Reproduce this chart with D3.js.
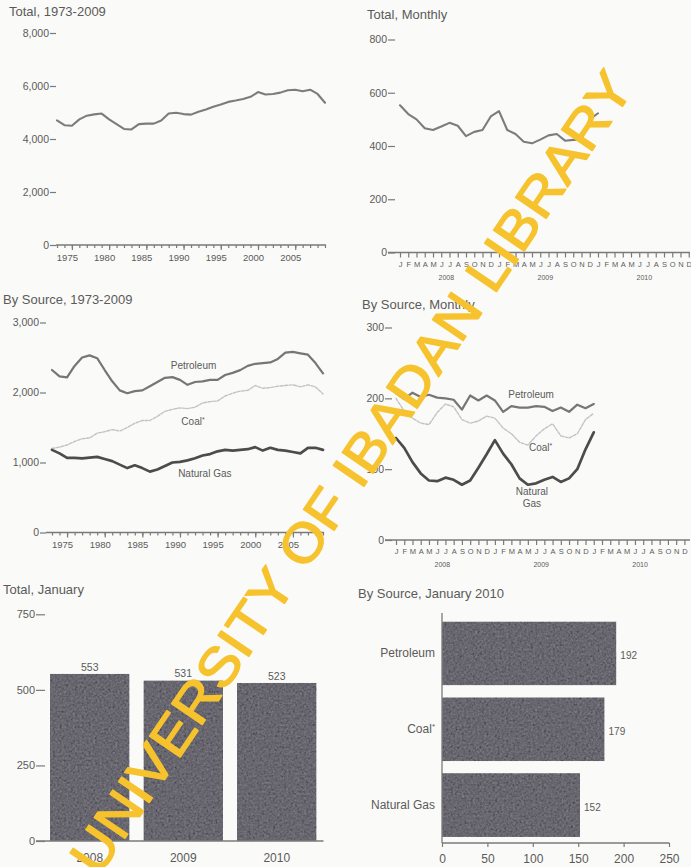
<!DOCTYPE html>
<html>
<head>
<meta charset="utf-8">
<script src="https://cdn.jsdelivr.net/npm/d3@7"></script>
<style>
  html, body { margin: 0; padding: 0; background: #fafaf8; }
  svg { display: block; }
</style>
</head>
<body>
<svg id="page" width="691" height="867"></svg>
<script>
// ---------- data ----------
const years = d3.range(1973, 2010);
const totalAnnual = [4700, 4520, 4500, 4740, 4880, 4930, 4960, 4740, 4560, 4380,
                     4360, 4560, 4580, 4580, 4700, 4960, 4990, 4940, 4920, 5030,
                     5110, 5220, 5300, 5400, 5450, 5510, 5590, 5770, 5680, 5700,
                     5750, 5840, 5860, 5800, 5860, 5700, 5370];
const petroleumAnnual = [2321, 2230, 2215, 2380, 2500, 2530, 2490, 2321, 2160, 2030,
                         1990, 2020, 2030, 2090, 2150, 2210, 2220, 2180, 2110, 2150,
                         2160, 2180, 2180, 2250, 2280, 2320, 2380, 2410, 2420, 2430,
                         2480, 2570, 2580, 2560, 2540, 2420, 2274];
const coalAnnual = [1200, 1220, 1250, 1300, 1340, 1350, 1420, 1440, 1470, 1450,
                    1500, 1560, 1600, 1600, 1660, 1730, 1760, 1780, 1770, 1790,
                    1850, 1870, 1880, 1950, 1990, 2020, 2030, 2100, 2060, 2070,
                    2090, 2100, 2110, 2080, 2110, 2080, 1980];
const gasAnnual = [1180, 1130, 1065, 1065, 1060, 1070, 1080, 1050, 1020, 970,
                   920, 960, 920, 870, 900, 950, 1000, 1010, 1030, 1060,
                   1100, 1120, 1160, 1180, 1170, 1180, 1190, 1220, 1170, 1210,
                   1180, 1170, 1150, 1130, 1210, 1210, 1180];
const majorYears = [1975, 1980, 1985, 1990, 1995, 2000, 2005];

const monthLetters = ["J","F","M","A","M","J","J","A","S","O","N","D"];
const monthYears = ["2008", "2009", "2010"];
// January 2008 through January 2010
const totalMonthly = [553, 520, 500, 467, 460, 473, 487, 476, 437, 453, 460, 511, 531,
                      460, 445, 416, 410, 424, 440, 445, 420, 423, 425, 500, 523];
const petroleumMonthly = [207, 199, 208, 202, 205, 201, 200, 198, 184, 204, 197, 204, 197,
                          181, 189, 187, 187, 189, 188, 182, 187, 181, 191, 186, 192];
const coalMonthly = [200, 182, 172, 165, 163, 180, 192, 188, 170, 165, 168, 175, 172,
                     158, 150, 138, 134, 147, 157, 164, 147, 144, 150, 170, 179];
const gasMonthly = [144, 130, 110, 94, 84, 83, 88, 85, 78, 84, 102, 121, 141,
                    122, 107, 87, 78, 80, 85, 89, 82, 87, 100, 128, 152];

const januaryYears = ["2008", "2009", "2010"];
const januaryTotals = [553, 531, 523];

const sources = ["Petroleum", "Coal", "Natural Gas"];
const january2010 = [192, 179, 152];

// ---------- styles ----------
const FONT = '"Liberation Sans", Arial, Helvetica, sans-serif';
const TEXT = "#5a5a5a";
const AXIS = "#7a7a7a";
const styles = {
  total:     { stroke: "#7c7c7c", width: 2.1, dash: null },
  petroleum: { stroke: "#767676", width: 2.2, dash: null },
  coal:      { stroke: "#c3c3c3", width: 1.4, dash: "3,1.5" },
  gas:       { stroke: "#4c4c4c", width: 2.7, dash: null }
};

const svg = d3.select("#page").attr("font-family", FONT);
svg.append("rect").attr("width", 691).attr("height", 867).attr("fill", "#fafaf8");

// grain texture for the bars
const defs = svg.append("defs");
const grain = defs.append("filter").attr("id", "grain")
  .attr("x", 0).attr("y", 0).attr("width", 1).attr("height", 1);
grain.append("feTurbulence").attr("type", "fractalNoise")
  .attr("baseFrequency", 0.45).attr("numOctaves", 3).attr("seed", 7).attr("result", "noise");
grain.append("feColorMatrix").attr("in", "noise").attr("type", "matrix")
  .attr("values", "0.33 0.33 0.33 0 0  0.33 0.33 0.33 0 0  0.33 0.33 0.33 0 0  0 0 0 0 1")
  .attr("result", "gray");
grain.append("feComposite").attr("in", "SourceGraphic").attr("in2", "gray")
  .attr("operator", "arithmetic").attr("k1", 0).attr("k2", 1).attr("k3", 0.32).attr("k4", -0.14)
  .attr("result", "mix");
grain.append("feComposite").attr("in", "mix").attr("in2", "SourceGraphic").attr("operator", "in");

function title(text, x, y) {
  svg.append("text").attr("x", x).attr("y", y).attr("font-size", 13)
    .attr("fill", TEXT).text(text);
}

function styleAxis(g, size) {
  g.attr("font-family", FONT).attr("font-size", size);
  g.selectAll("text").attr("fill", TEXT);
  g.selectAll("line").attr("stroke", AXIS).attr("stroke-width", 1.2);
  g.select(".domain").remove();
}

function yAxis(y, ticks, x, len, size, fmt) {
  const g = svg.append("g").attr("transform", `translate(${x},0)`)
    .call(d3.axisLeft(y).tickValues(ticks).tickSize(len).tickPadding(1).tickFormat(fmt));
  styleAxis(g, size);
  return g;
}

function baseline(x0, x1, yPos) {
  svg.append("line").attr("x1", x0).attr("x2", x1).attr("y1", yPos).attr("y2", yPos)
    .attr("stroke", AXIS).attr("stroke-width", 1.3);
}

function drawLine(data, xf, y, st) {
  svg.append("path").datum(data)
    .attr("d", d3.line().x((d, i) => xf(i)).y(d => y(d)))
    .attr("fill", "none").attr("stroke", st.stroke).attr("stroke-width", st.width)
    .attr("stroke-linejoin", "round").attr("stroke-linecap", "round")
    .attr("stroke-dasharray", st.dash);
}

function seriesLabel(lines, cx, cy, size, star) {
  const t = svg.append("text").attr("x", cx).attr("y", cy).attr("text-anchor", "middle")
    .attr("font-size", size).attr("fill", TEXT);
  lines.forEach((ln, k) => {
    t.append("tspan").attr("x", cx).attr("dy", k === 0 ? "0.35em" : "1.15em").text(ln);
  });
  if (star) t.append("tspan").attr("font-size", size * 0.7).attr("dy", -3).text("*");
}

// ---------- annual panels ----------
function annualAxisX(x, yPos) {
  const minor = svg.append("g").attr("transform", `translate(0,${yPos})`)
    .call(d3.axisBottom(x).tickValues(years).tickSize(3).tickFormat(""));
  styleAxis(minor, 9);
  const major = svg.append("g").attr("transform", `translate(0,${yPos})`)
    .call(d3.axisBottom(x).tickValues(majorYears).tickSize(5).tickPadding(4).tickFormat(d3.format("d")));
  styleAxis(major, 9.5);
  major.selectAll("text").attr("dx", -5);
}

// Total, 1973-2009
{
  const x = d3.scaleLinear().domain([1973, 2009]).range([57, 325]);
  const y = d3.scaleLinear().domain([0, 8000]).range([245, 33]);
  title("Total, 1973-2009", 9, 16);
  baseline(56, 326, y(0));
  yAxis(y, [0, 2000, 4000, 6000, 8000], 56, 6, 10.5, d3.format(","));
  annualAxisX(x, y(0));
  drawLine(totalAnnual, i => x(years[i]), y, styles.total);
}

// By Source, 1973-2009
{
  const x = d3.scaleLinear().domain([1973, 2009]).range([52, 323]);
  const y = d3.scaleLinear().domain([0, 3000]).range([532.5, 322.5]);
  title("By Source, 1973-2009", 3, 304);
  baseline(46, 324, y(0));
  yAxis(y, [0, 1000, 2000, 3000], 46, 6, 10.5, d3.format(","));
  annualAxisX(x, y(0));
  drawLine(coalAnnual, i => x(years[i]), y, styles.coal);
  drawLine(petroleumAnnual, i => x(years[i]), y, styles.petroleum);
  drawLine(gasAnnual, i => x(years[i]), y, styles.gas);
  seriesLabel(["Petroleum"], x(1991.8), y(2379), 10, false);
  seriesLabel(["Coal"], x(1992.0) - 2, y(1579), 10, true);
  seriesLabel(["Natural Gas"], x(1993.3), y(850), 10, false);
}

// ---------- monthly panels ----------
const monthIndex = d3.range(36);
function monthlyAxisX(x, yPos) {
  const g = svg.append("g").attr("transform", `translate(0,${yPos})`)
    .call(d3.axisBottom(x).tickValues(monthIndex).tickSize(5).tickPadding(4)
      .tickFormat(i => monthLetters[i % 12]));
  styleAxis(g, 7.5);
  monthYears.forEach((yr, k) => {
    svg.append("text").attr("x", (x(k * 12) + x(k * 12 + 11)) / 2 + 1).attr("y", yPos + 27)
      .attr("text-anchor", "middle").attr("font-size", 7).attr("fill", TEXT).text(yr);
  });
}

// Total, Monthly
{
  const x = d3.scaleLinear().domain([0, 35]).range([400, 688.75]);
  const y = d3.scaleLinear().domain([0, 800]).range([252.5, 39.5]);
  title("Total, Monthly", 367, 19);
  baseline(388, 690, y(0));
  yAxis(y, [0, 200, 400, 600, 800], 395, 7, 10.5, d3.format("d"));
  monthlyAxisX(x, y(0));
  drawLine(totalMonthly, x, y, styles.total);
}

// By Source, Monthly
{
  const x = d3.scaleLinear().domain([0, 35]).range([396, 684.4]);
  const y = d3.scaleLinear().domain([0, 300]).range([540, 327.5]);
  title("By Source, Monthly", 362, 309);
  baseline(385, 690, y(0));
  yAxis(y, [0, 100, 200, 300], 392, 7, 10.5, d3.format("d"));
  monthlyAxisX(x, y(0));
  drawLine(coalMonthly, x, y, styles.coal);
  drawLine(petroleumMonthly, x, y, styles.petroleum);
  drawLine(gasMonthly, x, y, styles.gas);
  seriesLabel(["Petroleum"], x(16.4), y(205), 10, false);
  seriesLabel(["Coal"], x(17.8) - 2, y(131), 10, true);
  seriesLabel(["Natural", "Gas"], x(16.5), y(68), 10, false);
}

// ---------- Total, January ----------
{
  const x = d3.scaleBand().domain(januaryYears).range([43, 323.5])
    .paddingInner(0.15).paddingOuter(0.075);
  const y = d3.scaleLinear().domain([0, 750]).range([841, 614.3]);
  title("Total, January", 3, 594);
  svg.append("g").selectAll("rect").data(januaryTotals).join("rect")
    .attr("x", (d, i) => x(januaryYears[i])).attr("width", x.bandwidth())
    .attr("y", d => y(d)).attr("height", d => y(0) - y(d))
    .attr("fill", "#615f68").attr("filter", "url(#grain)");
  svg.append("g").selectAll("text").data(januaryTotals).join("text")
    .attr("x", (d, i) => x(januaryYears[i]) + x.bandwidth() / 2).attr("y", d => y(d) - 3)
    .attr("text-anchor", "middle").attr("font-size", 10.5).attr("fill", TEXT).text(d => d);
  baseline(36, 323.5, y(0));
  yAxis(y, [0, 250, 500, 750], 45, 9, 11, d3.format("d"));
  const xa = svg.append("g").attr("transform", `translate(0,${y(0)})`)
    .call(d3.axisBottom(x).tickSize(0).tickPadding(12));
  styleAxis(xa, 12);
}

// ---------- By Source, January 2010 ----------
{
  const y = d3.scaleBand().domain(sources).range([615.5, 843])
    .paddingInner(0.16).paddingOuter(0.08);
  const x = d3.scaleLinear().domain([0, 250]).range([442, 669]);
  title("By Source, January 2010", 358, 598);
  svg.append("g").selectAll("rect").data(january2010).join("rect")
    .attr("x", x(0)).attr("width", d => x(d) - x(0))
    .attr("y", (d, i) => y(sources[i])).attr("height", y.bandwidth())
    .attr("fill", "#615f68").attr("filter", "url(#grain)");
  svg.append("g").selectAll("text").data(january2010).join("text")
    .attr("x", d => x(d) + 4).attr("y", (d, i) => y(sources[i]) + y.bandwidth() / 2 + 2)
    .attr("dy", "0.35em").attr("font-size", 10).attr("fill", TEXT).text(d => d);
  // category axis
  svg.append("line").attr("x1", x(0)).attr("x2", x(0)).attr("y1", 613).attr("y2", 843)
    .attr("stroke", AXIS).attr("stroke-width", 1.3);
  const ya = svg.append("g").attr("transform", `translate(${x(0)},0)`)
    .call(d3.axisLeft(y).tickSize(0).tickPadding(7));
  styleAxis(ya, 12);
  ya.selectAll("text").filter(d => d === "Coal")
    .append("tspan").attr("font-size", 8).attr("dy", -4).text("*");
  baseline(x(0), x(250) + 0.5, 843);
  const xa = svg.append("g").attr("transform", "translate(0,843)")
    .call(d3.axisBottom(x).tickValues([0, 50, 100, 150, 200, 250]).tickSize(4).tickPadding(7));
  styleAxis(xa, 12);
}

// ---------- library stamp ----------
svg.append("text")
  .attr("transform", "translate(351,472) rotate(-55.8)")
  .attr("text-anchor", "middle").attr("dy", "0.35em")
  .attr("font-size", 54).attr("fill", "#f6c32e")
  .attr("stroke", "#f6c32e").attr("stroke-width", 1.4).attr("stroke-linejoin", "round")
  .attr("textLength", 955).attr("lengthAdjust", "spacingAndGlyphs")
  .text("UNIVERSITY OF IBADAN LIBRARY");
</script>
</body>
</html>
